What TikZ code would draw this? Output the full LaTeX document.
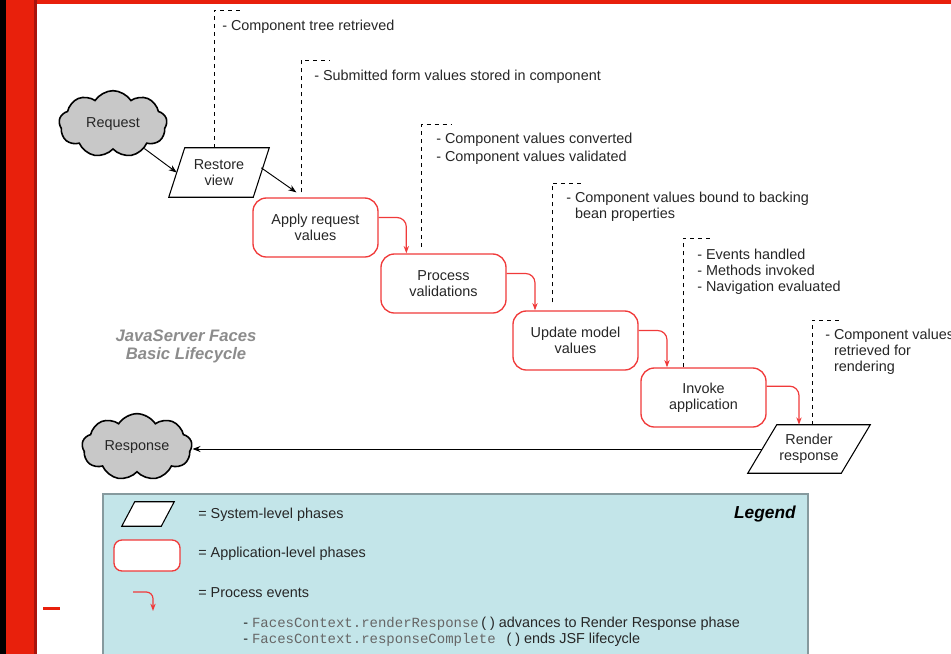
\documentclass[tikz,border=0pt]{standalone}
\usepackage{fontspec}
\setmainfont{Liberation Sans}
\setmonofont{Liberation Mono}
\usetikzlibrary{shapes.geometric,shapes.symbols,arrows.meta,calc}

\definecolor{barred}{HTML}{E8200C}
\definecolor{bardark}{HTML}{A8140C}
\definecolor{phasered}{HTML}{F03A3A}
\definecolor{cloudgray}{HTML}{C8C8C8}
\definecolor{legendfill}{HTML}{C3E5E9}
\definecolor{legendedge}{HTML}{869A9E}
\definecolor{txt}{HTML}{262626}
\definecolor{titlegray}{HTML}{8C8C8C}
\definecolor{codegray}{HTML}{666666}

% slanted outline for a system-level phase: #2 node name, #3 half of the slant
\newcommand\slantframe[3][]{%
  \draw[line width=0.8pt, #1] ([xshift=#3]#2.north west) -- ([xshift=#3]#2.north east)
    -- ([xshift=-#3]#2.south east) -- ([xshift=-#3]#2.south west) -- cycle;}

\begin{document}
\begin{tikzpicture}[x=0.75pt,y=-0.75pt,
  font=\fontsize{10.8}{12}\selectfont, text=txt,
  cloudnode/.style={cloud, cloud puffs=9, cloud puff arc=115, cloud ignores aspect,
    draw=black, line width=1.2pt, fill=cloudgray,
    minimum width=81pt, minimum height=50pt, inner sep=0pt},
  sysbox/.style={rectangle, inner sep=0pt, align=center},
  appbox/.style={rectangle, rounded corners=10pt, draw=phasered, line width=1pt,
    fill=white, minimum width=93.75pt, minimum height=44.25pt, align=center},
  flow/.style={-{Stealth[length=6pt,width=4.5pt]}, line width=0.7pt, draw=black},
  event/.style={-{Stealth[length=5.5pt,width=4pt]}, line width=0.9pt, draw=phasered,
    rounded corners=7pt},
  guide/.style={dash pattern=on 3pt off 3pt, line width=0.75pt, draw=black},
  note/.style={anchor=north west, inner sep=0pt, align=left},
  baseline note/.style={anchor=base west, inner sep=0pt},
]
\useasboundingbox (0,0) rectangle (951,654);

% page frame: side bars and top rule
\fill[black] (0,0) rectangle (6,654);
\fill[barred] (6,0) rectangle (34,654);
\fill[bardark] (34,0) rectangle (37,654);
\fill[barred] (37,0) rectangle (951,4);
\fill[barred] (43,607) rectangle (60,610);

% lifecycle phases
\node[cloudnode] (req) at (113,124) {Request};
\node[sysbox, minimum width=63pt, minimum height=36.75pt] (restore) at (219,172.5) {Restore\\view};
\slantframe{restore}{6pt}
\node[appbox] (apply) at (315.5,227.5) {Apply request\\values};
\node[appbox] (process) at (443.5,283.5) {Process\\validations};
\node[appbox] (update) at (575.5,340.5) {Update model\\values};
\node[appbox] (invoke) at (703.5,397.5) {Invoke\\application};
\node[sysbox, minimum width=69.75pt, minimum height=36pt] (render) at (809,449) {Render\\response};
\slantframe{render}{10.875pt}
\node[cloudnode, minimum width=82.5pt] (resp) at (137,447) {Response};

% request / response flow
\draw[flow] (req.-38) -- (restore.west);
\draw[flow] ([yshift=3.5pt]restore.east) -- ([shift={(33pt,3.75pt)}]apply.north west);
\draw[flow] (render.west) -- (render.west -| resp.east);

% process events between phases
\draw[event] ([yshift=7.5pt]apply.east) -| ([xshift=19.5pt]process.north west);
\draw[event] ([yshift=7.5pt]process.east) -| ([xshift=17pt]update.north west);
\draw[event] ([yshift=7.5pt]update.east) -| ([xshift=20pt]invoke.north west);
\draw[event] ([yshift=8.5pt]invoke.east) -| ([xshift=-7.5pt]render.north);

% dashed call-outs
\coordinate (g1) at (243,10);
\coordinate (g2) at (330,60);
\coordinate (g3) at (452,124);
\coordinate (g4) at (582,183);
\coordinate (g5) at (713,238);
\coordinate (g6) at (841,320);
\draw[guide] ([xshift=-3.75pt]restore.north) |- (g1);
\draw[guide] ([shift={(36.75pt,3.75pt)}]apply.north west) |- (g2);
\draw[guide] ([shift={(30.75pt,5pt)}]process.north west) |- (g3);
\draw[guide] ([shift={(30pt,6pt)}]update.north west) |- (g4);
\draw[guide] ([xshift=32.25pt]invoke.north west) |- (g5);
\draw[guide] ([xshift=2.25pt]render.north) |- (g6);

\node[note] (n1) at (222,20) {- Component tree retrieved};
\node[note] (n2) at (314,70) {- Submitted form values stored in component};
\node[note, font=\fontsize{10.8}{13.5}\selectfont] (n3) at (436,133)
  {- Component values converted\\- Component values validated};
\node[note] (n4) at (566,192)
  {- Component values bound to backing\\\hphantom{- }bean properties};
\node[note] (n5) at (697,249)
  {- Events handled\\- Methods invoked\\- Navigation evaluated};
\node[note] (n6) at (825,329)
  {- Component values\\\hphantom{- }retrieved for\\\hphantom{- }rendering};

% caption
\node[font=\bfseries\itshape\fontsize{12.5}{13.5}\selectfont, text=titlegray,
  align=center, anchor=north, inner sep=0pt] (title) at (186,330)
  {JavaServer Faces\\Basic Lifecycle};

% legend
\draw[draw=legendedge, fill=legendfill, line width=1.2pt] (103,494) rectangle (808,662);
\node[anchor=base east, inner sep=0pt, text=black,
  font=\bfseries\itshape\fontsize{13}{15}\selectfont] (lgtitle) at (796,518) {Legend};
\node[sysbox, minimum width=29.25pt, minimum height=18pt] (lgsys) at (148,514) {};
\slantframe[fill=white]{lgsys}{4.875pt}
\node[appbox, minimum width=49.5pt, minimum height=23.25pt, rounded corners=6pt]
  (lgapp) at (147,555.5) {};
\coordinate (lgev) at (133,592);
\coordinate (lgevend) at (153,611);
\draw[event, rounded corners=5pt] (lgev) -| (lgevend);
\node[baseline note] (lgsystxt) at (198,518) {= System-level phases};
\node[baseline note] (lgapptxt) at (198,557) {= Application-level phases};
\node[baseline note] (lgevtxt) at (198,597) {= Process events};
\node[baseline note] (lgcode1) at (243,627)
  {- {\ttfamily\fontsize{10.5}{12}\selectfont\color{codegray}FacesContext.renderResponse}\,( ) advances to Render Response phase};
\node[baseline note] (lgcode2) at (243,643)
  {- {\ttfamily\fontsize{10.5}{12}\selectfont\color{codegray}FacesContext.responseComplete\ }\,( ) ends JSF lifecycle};
\end{tikzpicture}
\end{document}
